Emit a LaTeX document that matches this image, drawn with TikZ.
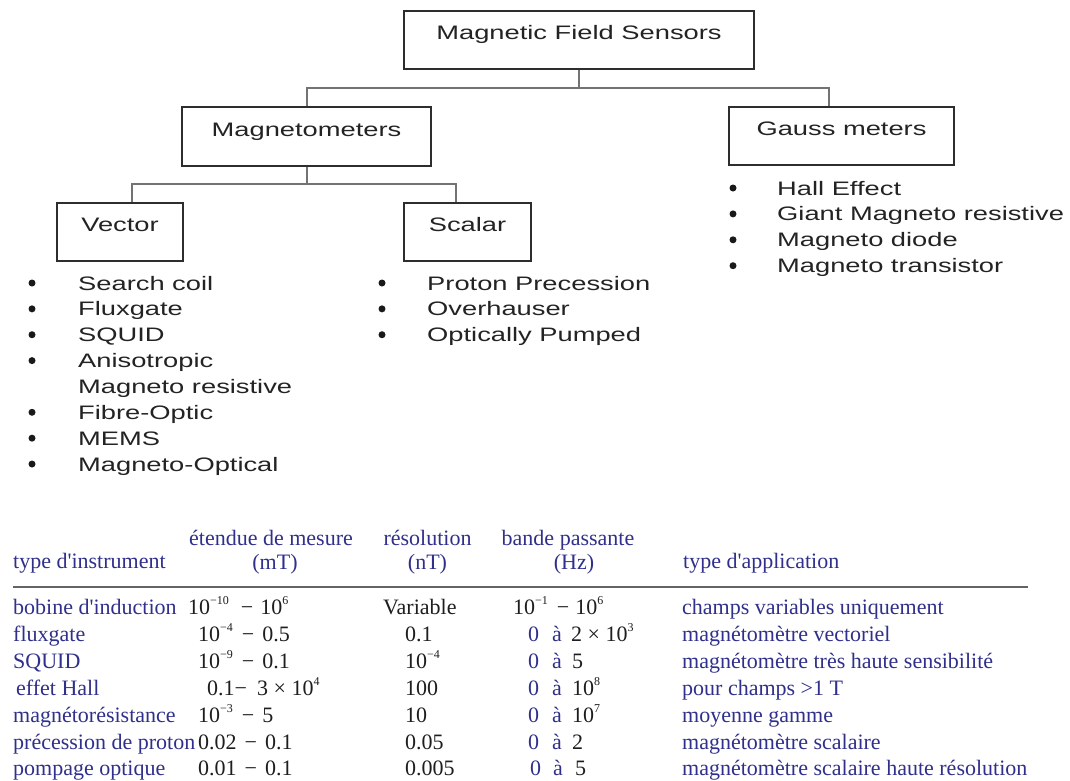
\documentclass[tikz,border=0pt]{standalone}
\usepackage{fontspec}
\setmainfont{Liberation Serif}[Ligatures=TeXOff]
\newfontfamily\arialx[FakeStretch=1.4]{Liberation Sans}
\definecolor{boxc}{RGB}{45,45,45}
\definecolor{connc}{RGB}{115,115,115}
\definecolor{topc}{RGB}{35,35,35}
\definecolor{tblue}{RGB}{48,48,140}
\definecolor{numc}{RGB}{30,30,30}
\definecolor{rulec}{RGB}{100,100,100}
\newcommand\mysup[1]{\raisebox{0.42em}{\fontsize{12}{12}\selectfont #1}}
\begin{document}
\begin{tikzpicture}[x=1pt,y=-1pt,
  box/.style={draw=boxc, line width=1.3pt, inner sep=0pt, text height=14pt, text depth=15pt,
    font=\arialx\fontsize{19.5}{23}\selectfont, text=topc},
  conn/.style={draw=connc, line width=2pt},
  item/.style={anchor=base west, inner sep=0pt, font=\arialx\fontsize{19.5}{23}\selectfont, text=topc},
  bul/.style={circle, fill=black!90, inner sep=0pt, minimum size=7pt},
  tb/.style={anchor=base west, inner sep=0pt, font=\fontsize{22}{26}\selectfont, text=tblue},
  tn/.style={anchor=base west, inner sep=0pt, font=\fontsize{22}{26}\selectfont, text=numc},
  th/.style={anchor=base, inner sep=0pt, font=\fontsize{22}{26}\selectfont, text=tblue},
  rule/.style={draw=rulec, line width=2pt}
]
\fill[white] (0,0) rectangle (1070,780);
\useasboundingbox (0,0) rectangle (1070,780);

% boxes
\node[box, minimum width=350pt, minimum height=58pt] (mfs) at (579,40) {Magnetic Field Sensors};
\node[box, minimum width=249pt, minimum height=59pt] (mag) at (306.5,136.5) {Magnetometers};
\node[box, minimum width=225pt, minimum height=58pt] (gau) at (841.5,136) {Gauss meters};
\node[box, minimum width=126pt, minimum height=58pt] (vec) at (120,232) {Vector};
\node[box, minimum width=127pt, minimum height=58pt] (sca) at (467.5,232) {Scalar};

% connectors
\coordinate (j1) at (579,88);
\coordinate (j2) at (306.5,184);
\draw[conn] (mfs.south) -- (j1);
\draw[conn] (mag.north) |- (j1);
\draw[conn] (j1) -| ([xshift=-12.5pt]gau.north);
\draw[conn] (mag.south) -- (j2);
\draw[conn] (j2) -| ([xshift=12pt]vec.north);
\draw[conn] (j2) -| ([xshift=-11.5pt]sca.north);

% vector list
\foreach \t [count=\i from 0] in {Search coil, Fluxgate, SQUID, Anisotropic, Magneto resistive, Fibre-Optic, MEMS, Magneto-Optical}
  {\node[item] (v\i) at (78, 290+25.86*\i) {\t};}
\foreach \i in {0,1,2,3,5,6,7}
  {\node[bul] (vb\i) at (32, 283+25.86*\i) {};}

% scalar list
\foreach \t [count=\i from 0] in {Proton Precession, Overhauser, Optically Pumped}
  {\node[item] (s\i) at (427, 290+25.86*\i) {\t};
   \node[bul] (sb\i) at (382, 283+25.86*\i) {};}

% gauss list
\foreach \t [count=\i from 0] in {Hall Effect, Giant Magneto resistive, Magneto diode, Magneto transistor}
  {\node[item] (g\i) at (777, 195+25.9*\i) {\t};
   \node[bul] (gb\i) at (733, 188+25.9*\i) {};}

% table headers
\node[tb] (h1) at (13,568) {type d'instrument};
\node[th] (h2a) at (271,545) {étendue de mesure};
\node[th] (h2b) at (275,569) {(mT)};
\node[th] (h3a) at (427.5,545) {résolution};
\node[th] (h3b) at (427.5,569) {(nT)};
\node[th] (h4a) at (568,545) {bande passante};
\node[th] (h4b) at (574,569) {(Hz)};
\node[tb] (h5) at (683,568) {type d'application};
\draw[rule] (13,587) -- (1028,587);

% rows
\node[tb] (r1a) at (13,614) {bobine d'induction};
\node[tn] (r1b) at (188,614) {10\mysup{−10}\hspace{12pt}−\hspace{7pt}10\mysup{6}};
\node[tn] (r1c) at (383,614) {Variable};
\node[tn] (r1d) at (513,614) {10\mysup{−1}\hspace{9pt}−\hspace{6pt}10\mysup{6}};
\node[tb] (r1e) at (682,614) {champs variables uniquement};

\node[tb] (r2a) at (13,641) {fluxgate};
\node[tn] (r2b) at (198,641) {10\mysup{−4}\hspace{9pt}−\hspace{8pt}0.5};
\node[tn] (r2c) at (405,641) {0.1};
\node[tb] (r2d) at (528,641) {0};
\node[tb] (r2e) at (552,641) {à};
\node[tn] (r2f) at (571,641) {2 × 10\mysup{3}};
\node[tb] (r2g) at (682,641) {magnétomètre vectoriel};

\node[tb] (r3a) at (13,668) {SQUID};
\node[tn] (r3b) at (198,668) {10\mysup{−9}\hspace{9pt}−\hspace{8pt}0.1};
\node[tn] (r3c) at (405,668) {10\mysup{−4}};
\node[tb] (r3d) at (528,668) {0};
\node[tb] (r3e) at (552,668) {à};
\node[tn] (r3f) at (572,668) {5};
\node[tb] (r3g) at (682,668) {magnétomètre très haute sensibilité};

\node[tb] (r4a) at (16,695) {effet Hall};
\node[tn] (r4b) at (207,695) {0.1−\hspace{10pt}3 × 10\mysup{4}};
\node[tn] (r4c) at (405,695) {100};
\node[tb] (r4d) at (528,695) {0};
\node[tb] (r4e) at (552,695) {à};
\node[tn] (r4f) at (572,695) {10\mysup{8}};
\node[tb] (r4g) at (682,695) {pour champs >1 T};

\node[tb] (r5a) at (13,722) {magnétorésistance};
\node[tn] (r5b) at (198,722) {10\mysup{−3}\hspace{9pt}−\hspace{8pt}5};
\node[tn] (r5c) at (405,722) {10};
\node[tb] (r5d) at (528,722) {0};
\node[tb] (r5e) at (552,722) {à};
\node[tn] (r5f) at (572,722) {10\mysup{7}};
\node[tb] (r5g) at (682,722) {moyenne gamme};

\node[tb] (r6a) at (13,749) {précession de proton};
\node[tn] (r6b) at (198,749) {0.02\hspace{8pt}−\hspace{8pt}0.1};
\node[tn] (r6c) at (405,749) {0.05};
\node[tb] (r6d) at (528,749) {0};
\node[tb] (r6e) at (552,749) {à};
\node[tn] (r6f) at (572,749) {2};
\node[tb] (r6g) at (682,749) {magnétomètre scalaire};

\node[tb] (r7a) at (13,775) {pompage optique};
\node[tn] (r7b) at (198,775) {0.01\hspace{8pt}−\hspace{8pt}0.1};
\node[tn] (r7c) at (405,775) {0.005};
\node[tb] (r7d) at (530,775) {0};
\node[tb] (r7e) at (553,775) {à};
\node[tn] (r7f) at (575,775) {5};
\node[tb] (r7g) at (682,775) {magnétomètre scalaire haute résolution};
\end{tikzpicture}
\end{document}
